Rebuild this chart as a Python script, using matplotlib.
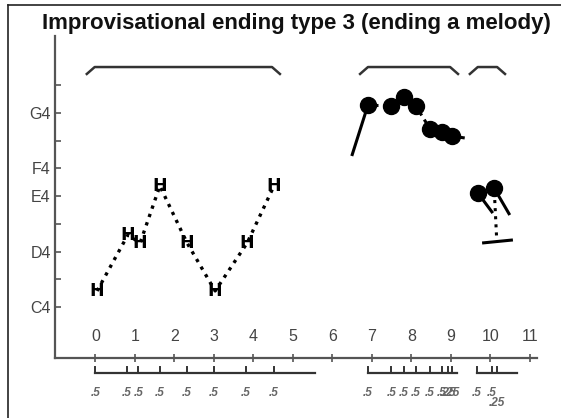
import matplotlib
matplotlib.use("Agg")
import matplotlib.pyplot as plt
from matplotlib.lines import Line2D

plt.rcParams['font.family'] = ['Liberation Sans', 'DejaVu Sans']

# ---------------- data ----------------
title = "Improvisational ending type 3 (ending a melody)"

pitch_ticks = [0, 2, 4, 5, 7]
pitch_labels = ["C4", "D4", "E4", "F4", "G4"]
pitch_minor = [1, 3, 6, 8]
time_ticks = list(range(0, 12))

# phrase 1: voice "H" notes
h_onsets = [0.04, 0.82, 1.13, 1.63, 2.32, 3.03, 3.84, 4.52]
h_pitches = [0.58, 2.60, 2.31, 4.37, 2.31, 0.58, 2.31, 4.37]

# phrase 2: instrument notes
n2_onsets = [6.90, 7.49, 7.80, 8.11, 8.47, 8.77, 9.03]
n2_pitches = [7.29, 7.26, 7.58, 7.26, 6.43, 6.32, 6.17]

# phrase 3: instrument notes
n3_onsets = [9.68, 10.09]
n3_pitches = [4.12, 4.30]

# gesture strokes: (x0, p0, x1, p1, style)
strokes = [
    (6.49, 5.45, 6.90, 7.29, '-'),
    (6.90, 7.29, 7.15, 7.29, '-'),
    (8.11, 7.26, 8.47, 6.43, '--'),
    (9.03, 6.17, 9.35, 6.10, '-'),
    (9.68, 4.12, 10.06, 3.39, '-'),
    (10.09, 4.30, 10.49, 3.32, '-'),
    (10.11, 3.86, 10.16, 2.42, ':'),
    (9.79, 2.31, 10.57, 2.42, '-'),
]

# phrase brackets (top)
phrase_start = [-0.22, 6.70, 9.48]
phrase_end = [4.67, 9.18, 10.37]

# onset rows (bottom)
row_onsets = [
    [0.0, 0.80, 1.08, 1.63, 2.32, 3.0, 3.80, 4.52],
    [6.90, 7.49, 7.80, 8.11, 8.47, 8.77, 8.92, 9.03],
    [9.66, 10.04, 10.16],
]
row_end = [5.56, 9.15, 10.67]
row_labels = [
    [".5", ".5", ".5", ".5", ".5", ".5", ".5", ".5"],
    [".5", ".5", ".5", ".5", ".5", ".5", ".25", ".25"],
    [".5", ".5", ".25"],
]
# vertical stacking level of each label (0 = first line, 1 = below)
row_levels = [
    [0, 0, 0, 0, 0, 0, 0, 0],
    [0, 0, 0, 0, 0, 0, 0, 0],
    [0, 0, 1],
]

# ---------------- figure ----------------
W, H = 561, 418
fig = plt.figure(figsize=(W / 100, H / 100), dpi=100)

def fx(px):
    return px / W

def fy(py):
    return 1 - py / H

# outer frame (left + top)
fig.add_artist(Line2D([fx(8), fx(8)], [fy(5), 0], color='#222222', lw=1.2))
fig.add_artist(Line2D([fx(8), 1], [fy(5), fy(5)], color='#222222', lw=1.2))

fig.text(fx(42), fy(23), title, fontsize=16, fontweight='bold',
         ha='left', va='center', color='#111111')

ax = fig.add_axes([fx(55), fy(358), fx(537) - fx(55), fy(36) - fy(358)])
ax.set_xlim(-1.025, 11.18)
ax.set_ylim(-1.84, 9.78)

for s in ['top', 'right']:
    ax.spines[s].set_visible(False)
for s in ['left', 'bottom']:
    ax.spines[s].set_color('#555555')
    ax.spines[s].set_linewidth(1.6)

ax.set_yticks(pitch_ticks)
ax.set_yticklabels(pitch_labels)
ax.set_yticks(pitch_minor, minor=True)
ax.tick_params(axis='y', which='both', direction='in', length=4, width=1.2,
               color='#555555', labelsize=11.5, labelcolor='#444444', pad=3)

ax.set_xticks(time_ticks)
ax.set_xticklabels([str(t) for t in time_ticks])
ax.tick_params(axis='x', direction='inout', length=6, width=1.2,
               color='#555555', labelsize=11.5, labelcolor='#444444', pad=-24)

# phrase 1
ax.plot(h_onsets, h_pitches, linestyle=':', color='black', lw=2.4, zorder=2)
for x, p in zip(h_onsets, h_pitches):
    ax.text(x, p, "H", ha='center', va='center', fontsize=12.5,
            fontweight='bold', family='DejaVu Sans', color='black', zorder=3)

# strokes
for x0, p0, x1, p1, st in strokes:
    ax.plot([x0, x1], [p0, p1], linestyle=st, color='black', lw=2.2,
            solid_capstyle='butt', zorder=2)

# phrase 2 / 3 notes
ax.plot(n2_onsets, n2_pitches, linestyle='none', marker='o', ms=11.5,
        color='black', zorder=3)
ax.plot(n3_onsets, n3_pitches, linestyle='none', marker='o', ms=11.5,
        color='black', zorder=3)

# top brackets
p_top, p_low, dx = 8.66, 8.41, 0.2
for a, b in zip(phrase_start, phrase_end):
    ax.plot([a, a + dx, b - dx, b], [p_low, p_top, p_top, p_low],
            color='#333333', lw=1.8, clip_on=False)

# bottom onset rows
p_row, p_tick, p_lab, p_step = -2.38, -2.17, -3.12, 0.36
for ons, end, labs, levs in zip(row_onsets, row_end, row_labels, row_levels):
    ax.plot([ons[0], end], [p_row, p_row], color='#333333', lw=1.6,
            clip_on=False)
    for o, lab, lv in zip(ons, labs, levs):
        ax.plot([o, o], [p_row, p_tick], color='#333333', lw=1.4,
                clip_on=False)
        ax.text(o, p_lab - lv * p_step, lab, ha='center', va='center',
                fontsize=8.5, style='italic', fontweight='bold',
                color='#666666', clip_on=False)

fig.savefig("out.png", dpi=100)
